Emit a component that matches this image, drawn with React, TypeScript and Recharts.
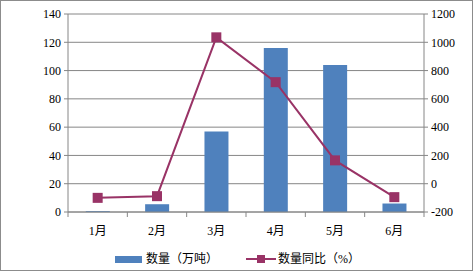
import { Bar, CartesianGrid, ComposedChart, Line, XAxis, YAxis } from 'recharts';

const months = ['1月', '2月', '3月', '4月', '5月', '6月'];
const volume = [0.6, 5.5, 57, 116, 104, 6];
const yoy = [-100, -88, 1035, 718, 165, -95];
const leftTicks = [0, 20, 40, 60, 80, 100, 120, 140];
const rightTicks = [-200, 0, 200, 400, 600, 800, 1000, 1200];

const data = months.map((m, i) => ({ month: m, volume: volume[i], yoy: yoy[i] }));

const BAR = '#4F81BD';
const LINE = '#993366';
const GRID = '#868686';
const FONT = '"Liberation Serif", "Noto Sans CJK SC", serif';

const W = 473;
const H = 271;
const LEFT_W = 68;
const RIGHT_W = 49;
const band = (W - LEFT_W - RIGHT_W) / months.length;

function MonthTick(props: any) {
  const { x, y, payload, index } = props;
  const axisY = y - 14;
  return (
    <g>
      <line x1={x - band / 2} x2={x - band / 2} y1={axisY} y2={axisY + 5} stroke={GRID} />
      {index === months.length - 1 && (
        <line x1={x + band / 2} x2={x + band / 2} y1={axisY} y2={axisY + 5} stroke={GRID} />
      )}
      <text x={x} y={y} dy="0.71em" textAnchor="middle" fontSize={12} fill="#000" fontFamily={FONT}>
        {payload.value}
      </text>
    </g>
  );
}

function SquareDot(props: any) {
  const { cx, cy } = props;
  if (cx == null || cy == null) return null;
  return <rect x={cx - 5} y={cy - 5} width={10} height={10} fill={LINE} />;
}

export default function App() {
  return (
    <div
      style={{
        position: 'absolute',
        left: 0,
        top: 0,
        width: W,
        height: H,
        boxSizing: 'border-box',
        border: '1px solid #8c8c8c',
        background: '#fff',
        fontFamily: FONT,
      }}
    >
      <div style={{ position: 'absolute', left: -1, top: -1 }}>
        <ComposedChart
          width={W}
          height={H}
          data={data}
          margin={{ top: 14, right: 0, left: 0, bottom: 29 }}
          barCategoryGap="30%"
        >
          <CartesianGrid vertical={false} stroke={GRID} yAxisId="left" />
          <XAxis
            dataKey="month"
            height={30}
            tickLine={false}
            tickSize={5}
            tickMargin={9}
            stroke={GRID}
            tick={<MonthTick />}
            interval={0}
          />
          <YAxis
            yAxisId="left"
            width={LEFT_W}
            domain={[0, 140]}
            ticks={leftTicks}
            stroke={GRID}
            tickSize={4}
            tickMargin={3}
            tick={{ fontSize: 12, fill: '#000', fontFamily: FONT }}
          />
          <YAxis
            yAxisId="right"
            orientation="right"
            width={RIGHT_W}
            domain={[-200, 1200]}
            ticks={rightTicks}
            stroke={GRID}
            tickSize={4}
            tickMargin={3}
            tick={{ fontSize: 12, fill: '#000', fontFamily: FONT }}
          />
          <Bar yAxisId="left" dataKey="volume" fill={BAR} isAnimationActive={false} />
          <Line
            yAxisId="right"
            dataKey="yoy"
            stroke={LINE}
            strokeWidth={2}
            dot={<SquareDot />}
            activeDot={false}
            isAnimationActive={false}
          />
        </ComposedChart>
      </div>
      <div
        style={{
          position: 'absolute',
          top: 250,
          left: 114,
          display: 'flex',
          alignItems: 'center',
          fontSize: 12,
          color: '#000',
          lineHeight: '16px',
        }}
      >
        <span style={{ display: 'inline-block', width: 27, height: 7, background: BAR, marginRight: 4 }} />
        <span>数量（万吨）</span>
        <svg width={30} height={12} style={{ marginLeft: 28, marginRight: 2 }}>
          <line x1={0} x2={30} y1={6} y2={6} stroke={LINE} strokeWidth={2} />
          <rect x={11} y={2} width={8} height={8} fill={LINE} />
        </svg>
        <span>数量同比（%）</span>
      </div>
    </div>
  );
}
